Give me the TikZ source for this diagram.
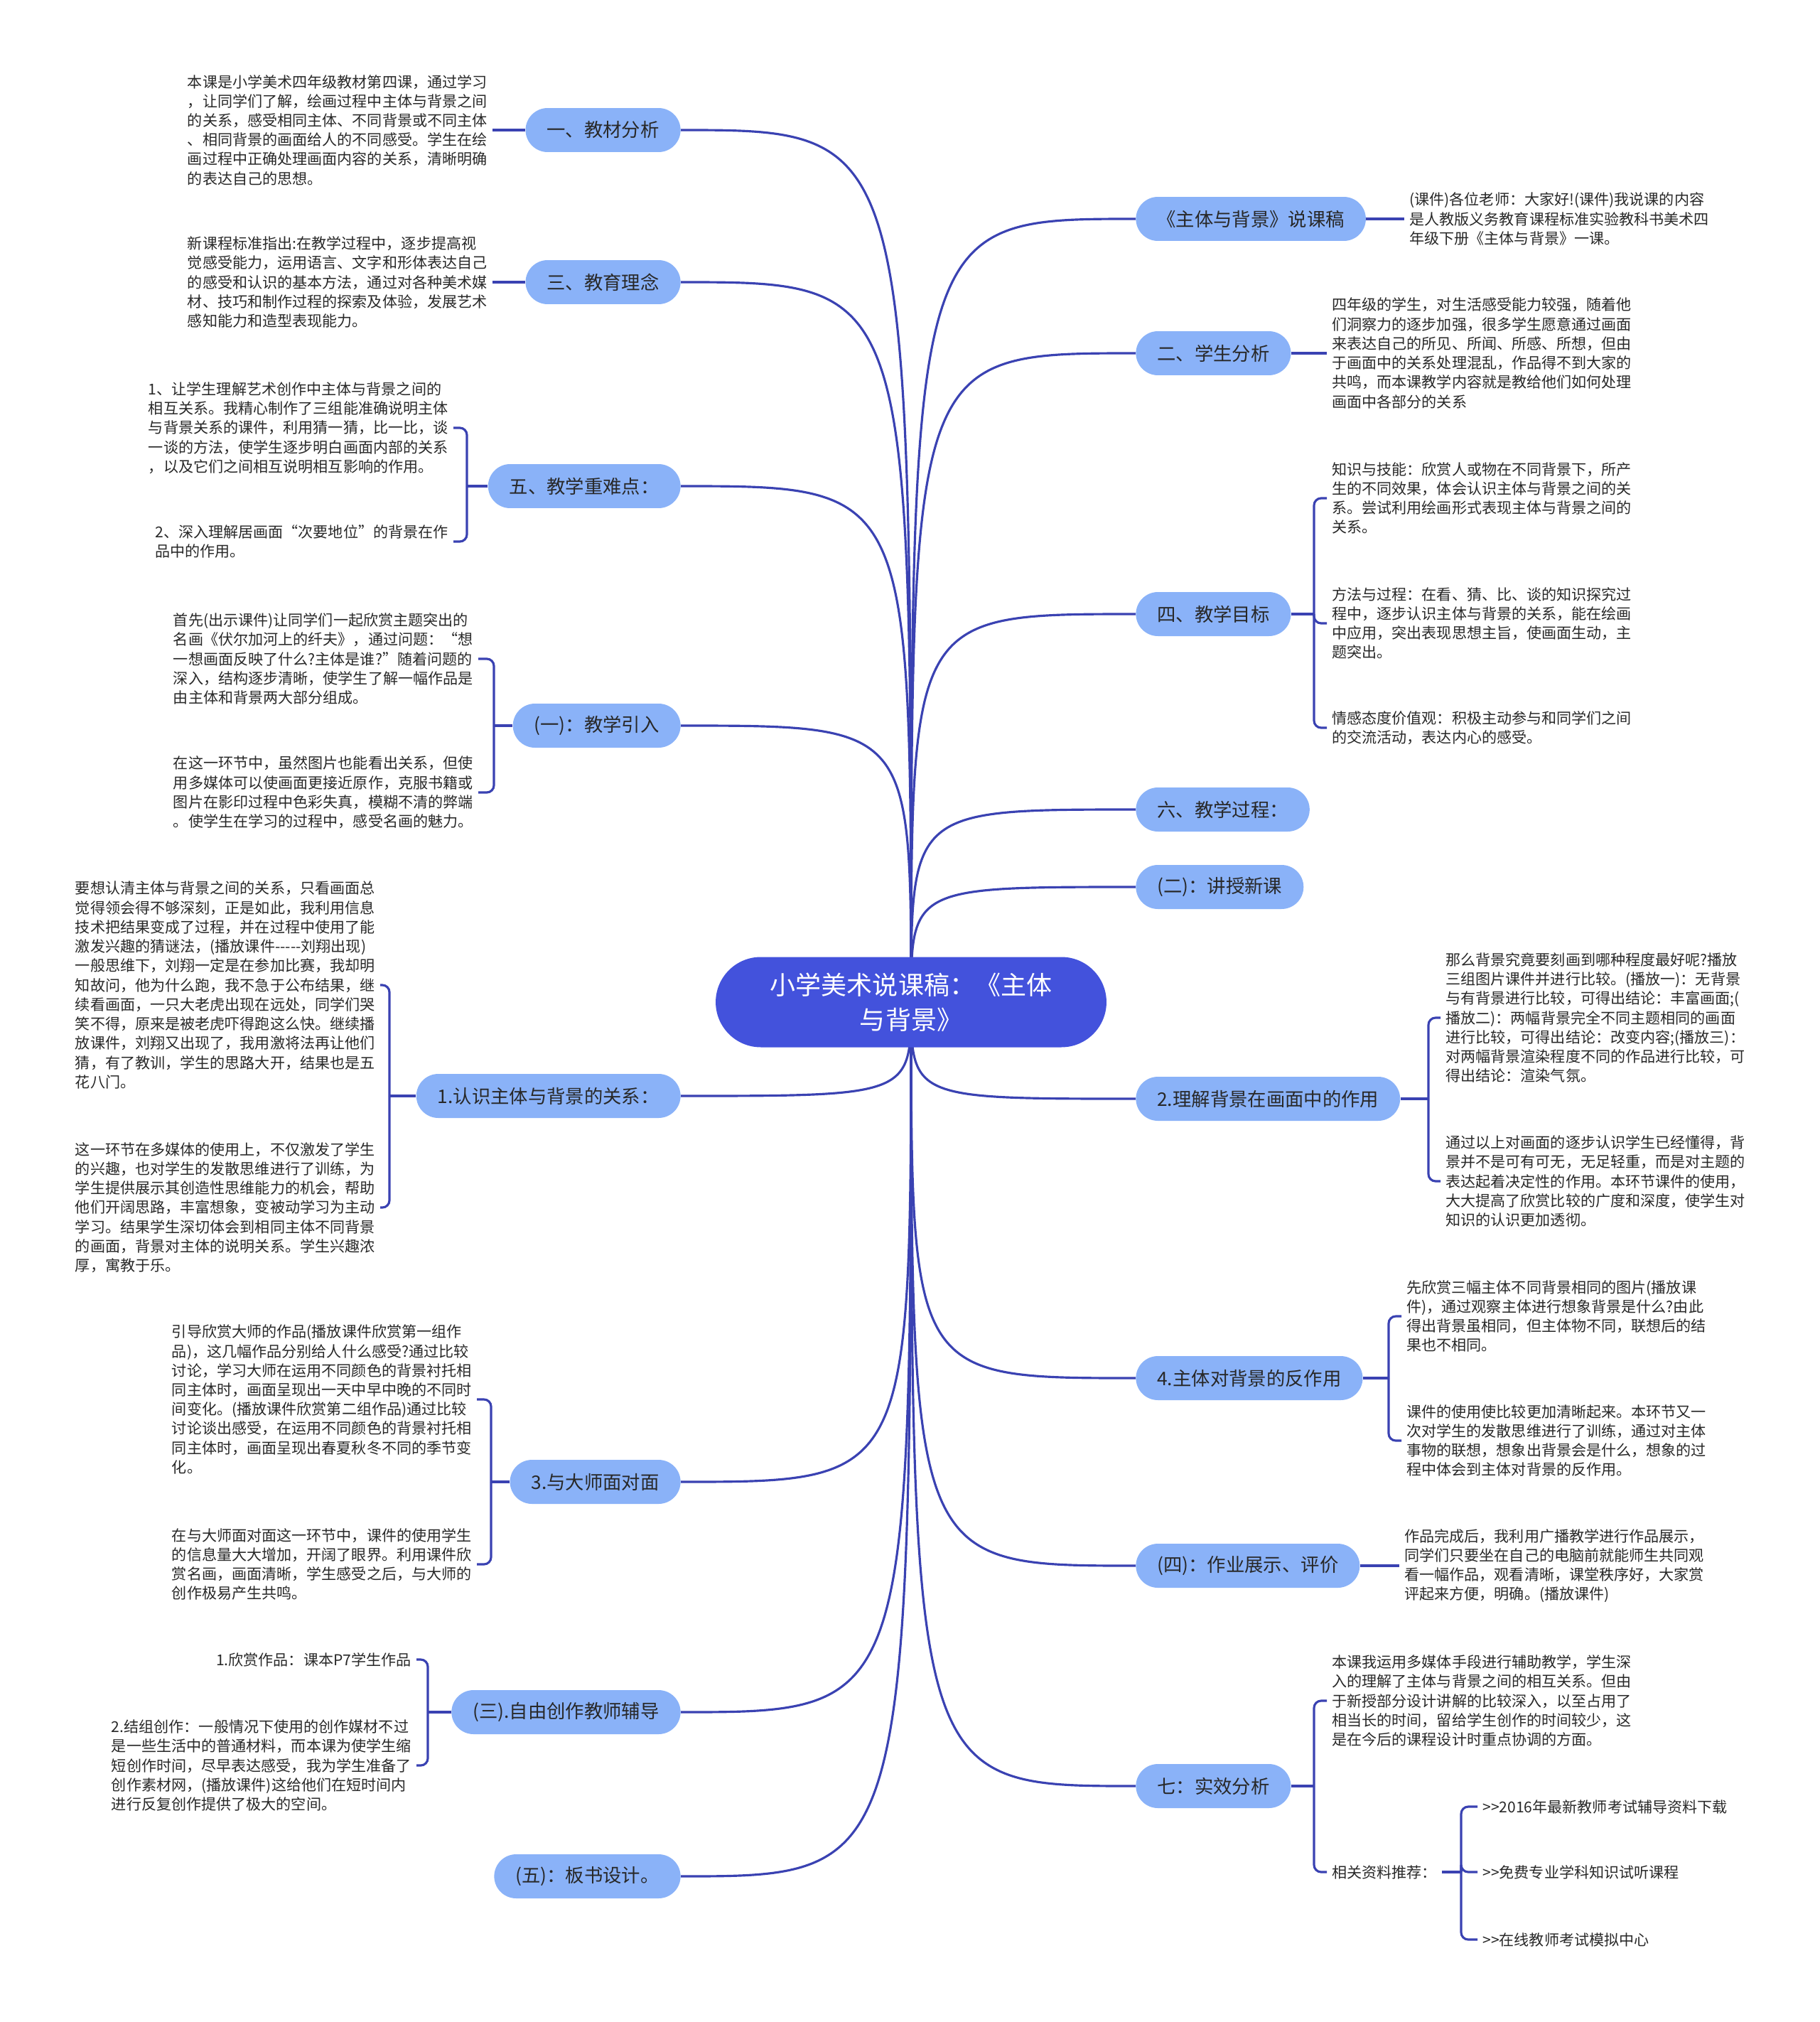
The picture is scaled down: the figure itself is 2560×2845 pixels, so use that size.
\documentclass[tikz,border=0pt]{standalone}
\usepackage{fontspec}
\setmainfont{Noto Sans CJK SC}
\usetikzlibrary{positioning}
\usetikzlibrary{backgrounds}
\definecolor{rootblue}{RGB}{67,82,220}
\definecolor{topicblue}{RGB}{138,178,248}
\definecolor{linkblue}{RGB}{58,66,178}
\definecolor{txtgray}{RGB}{40,40,40}

\begin{document}
\begin{tikzpicture}[x=0.02cm,y=-0.02cm,
  root/.style={fill=rootblue,text=white,rounded corners=1.27cm,minimum width=11cm,minimum height=2.54cm,align=center,font=\fontsize{20.5}{27.8}\selectfont},
  topic/.style={fill=topicblue,text=txtgray,rounded corners=0.62cm,minimum height=1.24cm,inner xsep=0.6cm,font=\fontsize{15}{18}\selectfont},
  note/.style={text=txtgray,align=left,inner sep=4pt,font=\fontsize{12}{15.5}\selectfont},
  link/.style={draw=linkblue,line width=1.8pt},
  fork/.style={draw=linkblue,line width=1.8pt,rounded corners=0.2cm}]
 \useasboundingbox (0,0) rectangle (2560,2845);
 % centre
 \node[root] (zt) at (1282,1410) {小学美术说课稿：《主体\\与背景》};
 % left topics
 \node[topic,anchor=east] (jc) at (958,183) {一、教材分析};
 \node[topic,anchor=east] (jl) at (958,397) {三、教育理念};
 \node[topic,anchor=east] (zn) at (958,684) {五、教学重难点：};
 \node[topic,anchor=east] (yr) at (958,1021) {(一)：教学引入};
 \node[topic,anchor=east] (rs) at (958,1542) {1.认识主体与背景的关系：};
 \node[topic,anchor=east] (dsh) at (958,2085) {3.与大师面对面};
 \node[topic,anchor=east] (zy) at (958,2409) {(三).自由创作教师辅导};
 \node[topic,anchor=east] (bs) at (958,2640) {(五)：板书设计。};
 % right topics
 \node[topic,anchor=west] (sk) at (1598,308) {《主体与背景》说课稿};
 \node[topic,anchor=west] (xs) at (1598,497) {二、学生分析};
 \node[topic,anchor=west] (mb) at (1598,864) {四、教学目标};
 \node[topic,anchor=west] (gc) at (1598,1139) {六、教学过程：};
 \node[topic,anchor=west] (jx) at (1598,1248) {(二)：讲授新课};
 \node[topic,anchor=west] (lj) at (1598,1546) {2.理解背景在画面中的作用};
 \node[topic,anchor=west] (fz) at (1598,1939) {4.主体对背景的反作用};
 \node[topic,anchor=west] (zp) at (1598,2203) {(四)：作业展示、评价};
 \node[topic,anchor=west] (sx) at (1598,2513) {七：实效分析};
 % left notes
 \node[note,anchor=east] (jc1) at (693,183) {本课是小学美术四年级教材第四课，通过学习\\，让同学们了解，绘画过程中主体与背景之间\\的关系，感受相同主体、不同背景或不同主体\\、相同背景的画面给人的不同感受。学生在绘\\画过程中正确处理画面内容的关系，清晰明确\\的表达自己的思想。};
 \node[note,anchor=east] (jl1) at (693,397) {新课程标准指出:在教学过程中，逐步提高视\\觉感受能力，运用语言、文字和形体表达自己\\的感受和认识的基本方法，通过对各种美术媒\\材、技巧和制作过程的探索及体验，发展艺术\\感知能力和造型表现能力。};
 \node[note,anchor=east] (zn1) at (638,602) {1、让学生理解艺术创作中主体与背景之间的\\相互关系。我精心制作了三组能准确说明主体\\与背景关系的课件，利用猜一猜，比一比，谈\\一谈的方法，使学生逐步明白画面内部的关系\\，以及它们之间相互说明相互影响的作用。};
 \node[note,anchor=east] (zn2) at (638,762) {2、深入理解居画面“次要地位”的背景在作\\品中的作用。};
 \node[note,anchor=east] (yr1) at (673,927) {首先(出示课件)让同学们一起欣赏主题突出的\\名画《伏尔加河上的纤夫》，通过问题：“想\\一想画面反映了什么?主体是谁?”随着问题的\\深入，结构逐步清晰，使学生了解一幅作品是\\由主体和背景两大部分组成。};
 \node[note,anchor=east] (yr2) at (673,1115) {在这一环节中，虽然图片也能看出关系，但使\\用多媒体可以使画面更接近原作，克服书籍或\\图片在影印过程中色彩失真，模糊不清的弊端\\。使学生在学习的过程中，感受名画的魅力。};
 \node[note,anchor=east] (rs1) at (535,1386) {要想认清主体与背景之间的关系，只看画面总\\觉得领会得不够深刻，正是如此，我利用信息\\技术把结果变成了过程，并在过程中使用了能\\激发兴趣的猜谜法，(播放课件-{}-{}-{}-{}-刘翔出现)\\一般思维下，刘翔一定是在参加比赛，我却明\\知故问，他为什么跑，我不急于公布结果，继\\续看画面，一只大老虎出现在远处，同学们哭\\笑不得，原来是被老虎吓得跑这么快。继续播\\放课件，刘翔又出现了，我用激将法再让他们\\猜，有了教训，学生的思路大开，结果也是五\\花八门。};
 \node[note,anchor=east] (rs2) at (535,1699) {这一环节在多媒体的使用上，不仅激发了学生\\的兴趣，也对学生的发散思维进行了训练，为\\学生提供展示其创造性思维能力的机会，帮助\\他们开阔思路，丰富想象，变被动学习为主动\\学习。结果学生深切体会到相同主体不同背景\\的画面，背景对主体的说明关系。学生兴趣浓\\厚，寓教于乐。};
 \node[note,anchor=east] (dsh1) at (671,1969) {引导欣赏大师的作品(播放课件欣赏第一组作\\品)，这几幅作品分别给人什么感受?通过比较\\讨论，学习大师在运用不同颜色的背景衬托相\\同主体时，画面呈现出一天中早中晚的不同时\\间变化。(播放课件欣赏第二组作品)通过比较\\讨论谈出感受，在运用不同颜色的背景衬托相\\同主体时，画面呈现出春夏秋冬不同的季节变\\化。};
 \node[note,anchor=east] (dsh2) at (671,2201) {在与大师面对面这一环节中，课件的使用学生\\的信息量大大增加，开阔了眼界。利用课件欣\\赏名画，画面清晰，学生感受之后，与大师的\\创作极易产生共鸣。};
 \node[note,anchor=east] (zy1) at (586,2335) {1.欣赏作品：课本P7学生作品};
 \node[note,anchor=east] (zy2) at (586,2484) {2.结组创作：一般情况下使用的创作媒材不过\\是一些生活中的普通材料，而本课为使学生缩\\短创作时间，尽早表达感受，我为学生准备了\\创作素材网，(播放课件)这给他们在短时间内\\进行反复创作提供了极大的空间。};
 % right notes
 \node[note,anchor=west] (sk1) at (1976,308) {(课件)各位老师：大家好!(课件)我说课的内容\\是人教版义务教育课程标准实验教科书美术四\\年级下册《主体与背景》一课。};
 \node[note,anchor=west] (xs1) at (1867,497) {四年级的学生，对生活感受能力较强，随着他\\们洞察力的逐步加强，很多学生愿意通过画面\\来表达自己的所见、所闻、所感、所想，但由\\于画面中的关系处理混乱，作品得不到大家的\\共鸣，而本课教学内容就是教给他们如何处理\\画面中各部分的关系};
 \node[note,anchor=west] (mb1) at (1867,701) {知识与技能：欣赏人或物在不同背景下，所产\\生的不同效果，体会认识主体与背景之间的关\\系。尝试利用绘画形式表现主体与背景之间的\\关系。};
 \node[note,anchor=west] (mb2) at (1867,877) {方法与过程：在看、猜、比、谈的知识探究过\\程中，逐步认识主体与背景的关系，能在绘画\\中应用，突出表现思想主旨，使画面生动，主\\题突出。};
 \node[note,anchor=west] (mb3) at (1867,1024) {情感态度价值观：积极主动参与和同学们之间\\的交流活动，表达内心的感受。};
 \node[note,anchor=west] (lj1) at (2027,1432) {那么背景究竟要刻画到哪种程度最好呢?播放\\三组图片课件并进行比较。(播放一)：无背景\\与有背景进行比较，可得出结论：丰富画面;(\\播放二)：两幅背景完全不同主题相同的画面\\进行比较，可得出结论：改变内容;(播放三)：\\对两幅背景渲染程度不同的作品进行比较，可\\得出结论：渲染气氛。};
 \node[note,anchor=west] (lj2) at (2027,1662) {通过以上对画面的逐步认识学生已经懂得，背\\景并不是可有可无，无足轻重，而是对主题的\\表达起着决定性的作用。本环节课件的使用，\\大大提高了欣赏比较的广度和深度，使学生对\\知识的认识更加透彻。};
 \node[note,anchor=west] (fz1) at (1972,1852) {先欣赏三幅主体不同背景相同的图片(播放课\\件)，通过观察主体进行想象背景是什么?由此\\得出背景虽相同，但主体物不同，联想后的结\\果也不相同。};
 \node[note,anchor=west] (fz2) at (1972,2027) {课件的使用使比较更加清晰起来。本环节又一\\次对学生的发散思维进行了训练，通过对主体\\事物的联想，想象出背景会是什么，想象的过\\程中体会到主体对背景的反作用。};
 \node[note,anchor=west] (zp1) at (1969,2203) {作品完成后，我利用广播教学进行作品展示，\\同学们只要坐在自己的电脑前就能师生共同观\\看一幅作品，观看清晰，课堂秩序好，大家赏\\评起来方便，明确。(播放课件)};
 \node[note,anchor=west] (sx1) at (1867,2393) {本课我运用多媒体手段进行辅助教学，学生深\\入的理解了主体与背景之间的相互关系。但由\\于新授部分设计讲解的比较深入，以至占用了\\相当长的时间，留给学生创作的时间较少，这\\是在今后的课程设计时重点协调的方面。};
 \node[note,anchor=west] (sx2) at (1867,2634) {相关资料推荐：};
 \node[note,anchor=west] (zl1) at (2079,2542) {>{}>2016年最新教师考试辅导资料下载};
 \node[note,anchor=west] (zl2) at (2079,2634) {>{}>免费专业学科知识试听课程};
 \node[note,anchor=west] (zl3) at (2079,2729) {>{}>在线教师考试模拟中心};
 % bracket points
 \coordinate (znk) at (657,684);
 \coordinate (yrk) at (695,1021);
 \coordinate (rsk) at (548,1542);
 \coordinate (dshk) at (691,2085);
 \coordinate (zyk) at (602,2409);
 \coordinate (mbk) at (1849,864);
 \coordinate (ljk) at (2010,1546);
 \coordinate (fzk) at (1954,1939);
 \coordinate (sxk) at (1849,2513);
 \coordinate (zlk) at (2056,2634);
 \begin{scope}[on background layer]
  % centre to topics
  \foreach \n in {jc,jl,zn,yr,rs,dsh,zy,bs}
   \draw[link] (zt.center) .. controls (zt.center |- \n.east) .. (\n.east);
  \foreach \n in {sk,xs,mb,gc,jx,lj,fz,zp,sx}
   \draw[link] (zt.center) .. controls (zt.center |- \n.west) .. (\n.west);
 \end{scope}
 % single notes
 \draw[link] (jc.west) -- (jc1.east);
 \draw[link] (jl.west) -- (jl1.east);
 \draw[link] (sk.east) -- (sk1.west);
 \draw[link] (xs.east) -- (xs1.west);
 \draw[link] (zp.east) -- (zp1.west);
 % brackets left
 \draw[link] (zn.west) -- (znk);
 \draw[fork] (znk) |- (zn1.east);
 \draw[fork] (znk) |- (zn2.east);
 \draw[link] (yr.west) -- (yrk);
 \draw[fork] (yrk) |- (yr1.east);
 \draw[fork] (yrk) |- (yr2.east);
 \draw[link] (rs.west) -- (rsk);
 \draw[fork] (rsk) |- (rs1.east);
 \draw[fork] (rsk) |- (rs2.east);
 \draw[link] (dsh.west) -- (dshk);
 \draw[fork] (dshk) |- (dsh1.east);
 \draw[fork] (dshk) |- (dsh2.east);
 \draw[link] (zy.west) -- (zyk);
 \draw[fork] (zyk) |- (zy1.east);
 \draw[fork] (zyk) |- (zy2.east);
 % brackets right
 \draw[link] (mb.east) -- (mbk);
 \foreach \n in {mb1,mb2,mb3} \draw[fork] (mbk) |- (\n.west);
 \draw[link] (lj.east) -- (ljk);
 \foreach \n in {lj1,lj2} \draw[fork] (ljk) |- (\n.west);
 \draw[link] (fz.east) -- (fzk);
 \foreach \n in {fz1,fz2} \draw[fork] (fzk) |- (\n.west);
 \draw[link] (sx.east) -- (sxk);
 \foreach \n in {sx1,sx2} \draw[fork] (sxk) |- (\n.west);
 \draw[link] (sx2.east) -- (zlk);
 \foreach \n in {zl1,zl2,zl3} \draw[fork] (zlk) |- (\n.west);
\end{tikzpicture}
\end{document}
